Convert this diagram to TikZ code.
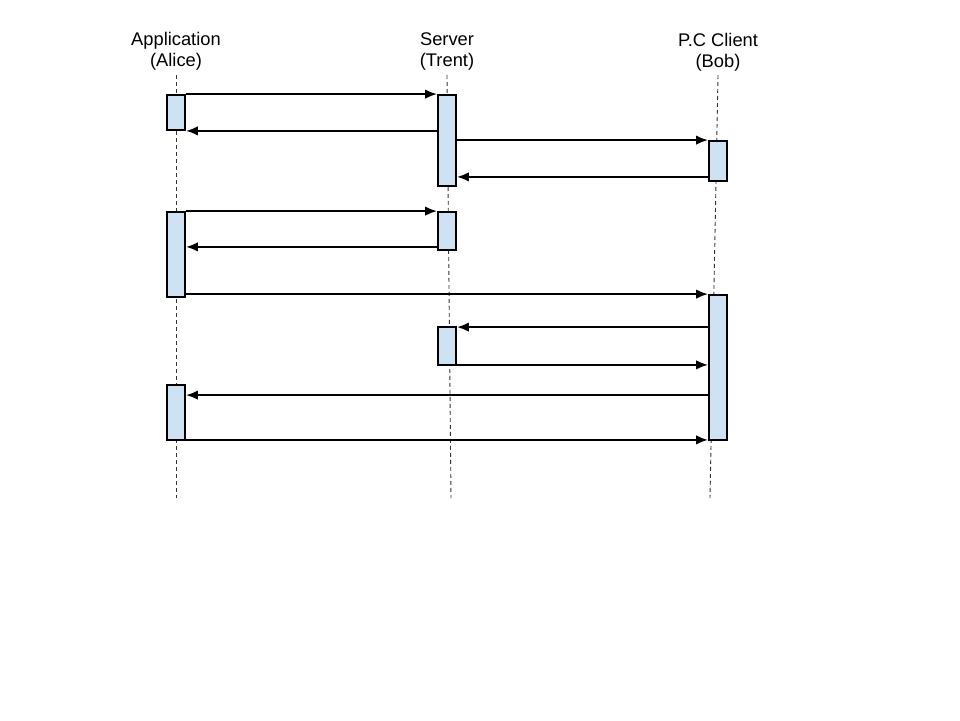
\documentclass[tikz,border=0pt]{standalone}
\usepackage{fontspec}
\setmainfont{Liberation Sans}
\usetikzlibrary{arrows.meta}
\definecolor{actblue}{HTML}{CFE2F3}
\tikzset{
  party/.style={align=center, font=\fontsize{18.3}{21}\selectfont, inner sep=0pt},
  lifeline/.style={draw=black!80, dash pattern=on 4pt off 3pt, line width=0.9pt},
  activation/.style={draw, line width=1.8pt, fill=actblue, minimum width=18pt, inner sep=0pt},
  msg/.style={-{Latex[length=12pt,width=9.5pt]}, line width=2.1pt}
}

\begin{document}
\begin{tikzpicture}[x=1pt,y=-1pt]
  \useasboundingbox[fill=white] (0,0) rectangle (960,720);

  \node[party] (alice) at (176,51) {Application\\(Alice)};
  \node[party] (trent) at (447,52) {Server\\(Trent)};
  \node[party] (bob) at (718,52) {P.C Client\\(Bob)};

  \coordinate (alice top) at (176,75);
  \coordinate (alice end) at (176,498);
  \coordinate (trent top) at (447,75);
  \coordinate (trent end) at (451,498);
  \coordinate (bob top) at (718,75);
  \coordinate (bob end) at (710,498);
  \draw[lifeline] (alice top) -- (alice end);
  \draw[lifeline] (trent top) -- (trent end);
  \draw[lifeline] (bob top) -- (bob end);

  \node[activation, minimum height=35pt] (alice1) at (176,112.5) {};
  \node[activation, minimum height=91pt] (trent1) at (447,140.5) {};
  \node[activation, minimum height=40pt] (bob1) at (718,161) {};
  \node[activation, minimum height=85pt] (alice2) at (176,254.5) {};
  \node[activation, minimum height=38pt] (trent2) at (447,231) {};
  \node[activation, minimum height=145pt] (bob2) at (718,367.5) {};
  \node[activation, minimum height=38pt] (trent3) at (447,346) {};
  \node[activation, minimum height=55pt] (alice3) at (176,412.5) {};

  \coordinate (r4) at ([yshift=5pt]bob1.south west);
  \coordinate (r6) at ([yshift=4pt]trent2.south west);
  \coordinate (r8) at ([yshift=-1pt]trent3.north east);
  \coordinate (r9) at ([yshift=1pt]trent3.south east);
  \coordinate (r10) at ([yshift=-11pt]alice3.north east);
  \coordinate (r11) at ([yshift=1pt]alice3.south east);

  \draw[msg] (alice1.north east) -- (trent1.west |- alice1.north);
  \draw[msg] (trent1.west |- alice1.south) -- (alice1.south east);
  \draw[msg] (trent1.east |- bob1.north) -- (bob1.north west);
  \draw[msg] (r4) -- (trent1.east |- r4);
  \draw[msg] (alice2.north east) -- (trent2.north west);
  \draw[msg] (r6) -- (alice2.east |- r6);
  \draw[msg] (alice2.east |- bob2.north) -- (bob2.north west);
  \draw[msg] (bob2.west |- r8) -- (r8);
  \draw[msg] (r9) -- (bob2.west |- r9);
  \draw[msg] (bob2.west |- r10) -- (r10);
  \draw[msg] (r11) -- (bob2.west |- r11);
\end{tikzpicture}
\end{document}
